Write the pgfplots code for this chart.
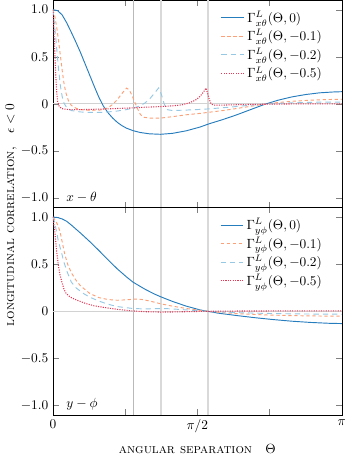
\documentclass[border=0pt]{standalone}
\usepackage{pgfplots}
\pgfplotsset{compat=1.18}
\usepackage{pgfplotstable}
\definecolor{cblue}{RGB}{38,125,190}
\definecolor{corange}{RGB}{252,160,120}
\definecolor{clblue}{RGB}{150,200,228}
\definecolor{cred}{RGB}{235,55,85}

\pgfplotstableread{
t v
0 1.0
0.05 0.99
0.1 0.945
0.15 0.86
0.2 0.76
0.25 0.655
0.3 0.545
0.35 0.425
0.4 0.305
0.45 0.185
0.5 0.07
0.55 -0.025
0.6 -0.095
0.65 -0.15
0.7 -0.195
0.75 -0.23
0.8 -0.257
0.87 -0.283
0.95 -0.303
1.05 -0.317
1.17 -0.322
1.3 -0.312
1.45 -0.285
1.6 -0.245
1.7 -0.21
1.85 -0.165
2.0 -0.115
2.15 -0.06
2.3 -0.005
2.45 0.04
2.6 0.075
2.75 0.1
2.9 0.118
3.05 0.127
3.1416 0.13
}\xa
\pgfplotstableread{
t v
0 1.0
0.02 0.93
0.04 0.82
0.06 0.68
0.08 0.52
0.1 0.36
0.12 0.22
0.14 0.12
0.17 0.03
0.2 -0.015
0.25 -0.045
0.3 -0.06
0.4 -0.068
0.5 -0.066
0.55 -0.058
0.6 -0.04
0.65 -0.005
0.7 0.045
0.75 0.11
0.8 0.168
0.83 0.15
0.86 0.09
0.89 0.02
0.92 -0.05
0.95 -0.11
0.98 -0.14
1.05 -0.15
1.17 -0.15
1.3 -0.135
1.45 -0.115
1.6 -0.1
1.7 -0.088
1.85 -0.07
2.0 -0.048
2.15 -0.025
2.3 -0.002
2.45 0.015
2.6 0.028
2.8 0.04
3.0 0.047
3.1416 0.05
}\xb
\pgfplotstableread{
t v
0 1.0
0.02 0.82
0.04 0.6
0.06 0.38
0.08 0.2
0.1 0.08
0.12 0.01
0.15 -0.04
0.2 -0.07
0.3 -0.085
0.4 -0.09
0.5 -0.09
0.6 -0.085
0.7 -0.075
0.8 -0.06
0.87 -0.045
0.95 -0.02
1.0 0.01
1.05 0.05
1.1 0.11
1.15 0.17
1.18 0.1
1.21 0.0
1.24 -0.06
1.3 -0.07
1.45 -0.065
1.6 -0.058
1.7 -0.052
1.85 -0.04
2.0 -0.027
2.15 -0.013
2.3 -0.002
2.5 0.008
2.7 0.015
2.9 0.019
3.1416 0.02
}\xc
\pgfplotstableread{
t v
0 1.0
0.01 0.8
0.02 0.56
0.03 0.32
0.04 0.14
0.05 0.03
0.07 -0.03
0.1 -0.05
0.15 -0.058
0.2 -0.06
0.3 -0.06
0.4 -0.058
0.5 -0.055
0.6 -0.052
0.7 -0.048
0.87 -0.042
1.0 -0.035
1.17 -0.028
1.3 -0.02
1.4 -0.01
1.48 0.01
1.55 0.04
1.6 0.08
1.64 0.13
1.665 0.168
1.68 0.12
1.70 0.05
1.72 0.0
1.75 -0.012
1.85 -0.012
2.0 -0.008
2.3 -0.003
2.6 0.0
3.1416 0.0
}\xd
\pgfplotstableread{
t v
0 1.0
0.05 0.995
0.1 0.98
0.15 0.955
0.2 0.915
0.3 0.83
0.4 0.74
0.5 0.645
0.6 0.545
0.7 0.45
0.8 0.365
0.87 0.31
1.0 0.235
1.1 0.185
1.17 0.155
1.3 0.105
1.45 0.055
1.6 0.015
1.685 0.0
1.8 -0.02
2.0 -0.045
2.2 -0.068
2.4 -0.088
2.6 -0.105
2.8 -0.118
3.0 -0.127
3.1416 -0.13
}\ya
\pgfplotstableread{
t v
0 1.0
0.03 0.96
0.05 0.92
0.076 0.85
0.1 0.74
0.13 0.6
0.16 0.5
0.2 0.41
0.25 0.33
0.3 0.27
0.4 0.19
0.5 0.145
0.6 0.125
0.7 0.117
0.8 0.122
0.9 0.13
0.95 0.128
1.05 0.11
1.17 0.08
1.3 0.055
1.45 0.03
1.6 0.01
1.685 0.0
1.85 -0.015
2.0 -0.025
2.3 -0.038
2.6 -0.046
2.9 -0.05
3.1416 -0.052
}\yb
\pgfplotstableread{
t v
0 1.0
0.02 0.94
0.04 0.84
0.06 0.74
0.094 0.62
0.12 0.52
0.15 0.43
0.2 0.31
0.25 0.25
0.33 0.19
0.4 0.15
0.51 0.105
0.6 0.075
0.7 0.05
0.87 0.03
1.0 0.025
1.1 0.028
1.2 0.03
1.3 0.025
1.45 0.015
1.6 0.005
1.685 0.0
1.85 -0.008
2.0 -0.014
2.3 -0.022
2.6 -0.027
2.9 -0.03
3.1416 -0.031
}\yc
\pgfplotstableread{
t v
0 1.0
0.02 0.85
0.04 0.64
0.06 0.48
0.076 0.39
0.1 0.3
0.12 0.235
0.14 0.195
0.17 0.165
0.2 0.145
0.257 0.12
0.35 0.085
0.45 0.058
0.51 0.048
0.6 0.035
0.69 0.022
0.8 0.01
0.87 0.004
1.0 -0.004
1.17 -0.008
1.3 -0.007
1.45 -0.004
1.6 -0.001
1.685 0.0
2.0 0.003
2.5 0.004
3.1416 0.004
}\yd

\pgfplotsset{
  myaxis/.style={
    scale only axis, width=216.6pt, height=155.5pt,
    xmin=0, xmax=3.14159, ymin=-1.1, ymax=1.1,
    xtick={0,0.785398,1.570796,2.356194,3.141593},
    ytick={-1,-0.5,0,0.5,1},
    yticklabels={$-1.0$,$-0.5$,$0$,$0.5$,$1.0$},
    legend style={draw=none, fill=none, at={(0.955,0.975)}, anchor=north east},
    legend cell align=left,
  },
  vl1/.style={gray!55, line width=0.5pt, forget plot},
  vl2/.style={gray!30, line width=1pt, forget plot},
  zl/.style={gray!35, line width=0.8pt, forget plot},
  s1/.style={cblue, line width=0.7pt, no marks},
  s2/.style={corange, line width=0.7pt, dash pattern=on 2.5pt off 2pt, no marks},
  s3/.style={clblue, line width=0.7pt, dash pattern=on 4pt off 3pt, no marks},
  s4/.style={cred, line width=0.8pt, densely dotted, no marks},
}

\begin{document}
\begin{tikzpicture}
\begin{axis}[myaxis, name=top,
  xticklabels={},
  ylabel={\textsc{longitudinal correlation},\quad $\epsilon<0$},
  ylabel style={at={(axis description cs:-0.145,-0.036)}, anchor=center},
]
\addplot[vl1] coordinates {(0.87,-1.1) (0.87,1.1)};
\addplot[vl2] coordinates {(1.174,-1.1) (1.174,1.1)};
\addplot[vl2] coordinates {(1.685,-1.1) (1.685,1.1)};
\addplot[zl] coordinates {(0,0) (3.14159,0)};
\addplot[s1] table[x=t,y=v] {\xa};
\addplot[s2] table[x=t,y=v] {\xb};
\addplot[s3] table[x=t,y=v] {\xc};
\addplot[s4] table[x=t,y=v] {\xd};
\legend{{$\Gamma^L_{x\theta}(\Theta,0)$},{$\Gamma^L_{x\theta}(\Theta,-0.1)$},{$\Gamma^L_{x\theta}(\Theta,-0.2)$},{$\Gamma^L_{x\theta}(\Theta,-0.5)$}}
\node[anchor=south west] at (axis description cs:0.03,0.0) {$x-\theta$};
\end{axis}
\begin{axis}[myaxis, name=bot, at={(top.south west)}, anchor=north west,
  xticklabels={$0$,,$\pi/2$,,$\pi$},
  xlabel={\textsc{angular separation}\quad $\Theta$},
  xlabel style={at={(axis description cs:0.5,-0.163)}, anchor=center},
]
\addplot[vl1] coordinates {(0.87,-1.1) (0.87,1.1)};
\addplot[vl2] coordinates {(1.174,-1.1) (1.174,1.1)};
\addplot[vl2] coordinates {(1.685,-1.1) (1.685,1.1)};
\addplot[zl] coordinates {(0,0) (3.14159,0)};
\addplot[s1] table[x=t,y=v] {\ya};
\addplot[s2] table[x=t,y=v] {\yb};
\addplot[s3] table[x=t,y=v] {\yc};
\addplot[s4] table[x=t,y=v] {\yd};
\legend{{$\Gamma^L_{y\phi}(\Theta,0)$},{$\Gamma^L_{y\phi}(\Theta,-0.1)$},{$\Gamma^L_{y\phi}(\Theta,-0.2)$},{$\Gamma^L_{y\phi}(\Theta,-0.5)$}}
\node[anchor=south west] at (axis description cs:0.03,0.0) {$y-\phi$};
\end{axis}
\path ([xshift=-39.7pt]top.north west) rectangle ([xshift=6.7pt,yshift=-39pt]bot.south east);
\end{tikzpicture}
\end{document}
